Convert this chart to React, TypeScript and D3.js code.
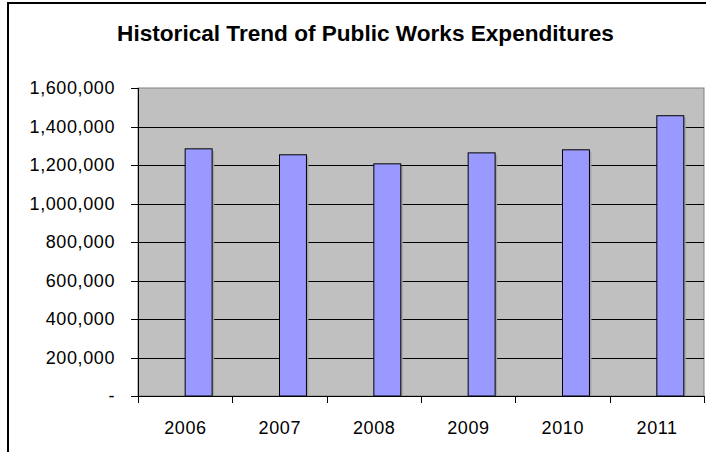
import React from "react";
import * as d3 from "d3";

const years = ["2006", "2007", "2008", "2009", "2010", "2011"];
const expenditures = [1284000, 1253000, 1206000, 1263000, 1279000, 1456000];
const yTicks = [0, 200000, 400000, 600000, 800000, 1000000, 1200000, 1400000, 1600000];
const title = "Historical Trend of Public Works Expenditures";

const W = 706;
const H = 452;
const plot = { left: 138, right: 704, top: 88, bottom: 396 };
const font = "'Liberation Sans', Arial, Helvetica, sans-serif";

export default function App() {
  const x = d3.scaleBand<string>().domain(years).range([plot.left, plot.right]).padding(0);
  const y = d3.scaleLinear().domain([0, 1600000]).range([plot.bottom, plot.top]);
  const bw = x.bandwidth() / 3.5;
  const fmt = (v: number) => (v === 0 ? "-" : d3.format(",")(v));
  const boundaries = years.map((d) => x(d) as number).concat([plot.right]);

  return (
    <svg width={W} height={H} style={{ position: "absolute", left: 0, top: 0, background: "#fff" }}>
      <rect x={0} y={0} width={W} height={H} fill="#fff" />
      {/* outer frame */}
      <rect x={8} y={3} width={W + 20} height={H + 20} fill="none" stroke="#000" strokeWidth={2} />
      {/* title */}
      <text x={365.5} y={41} textAnchor="middle" fontFamily={font} fontWeight="bold" fontSize={22.6} fill="#000">
        {title}
      </text>
      {/* plot area */}
      <rect x={plot.left} y={plot.top} width={plot.right - plot.left} height={plot.bottom - plot.top} fill="#C0C0C0" stroke="#808080" strokeWidth={1} />
      {/* gridlines + y ticks */}
      {yTicks.map((t) => (
        <g key={t}>
          {t > 0 && t < 1600000 && (
            <line x1={plot.left} x2={plot.right} y1={Math.round(y(t)) + 0.5} y2={Math.round(y(t)) + 0.5} stroke="#000" strokeWidth={1} />
          )}
          <line x1={plot.left - 7} x2={plot.left} y1={Math.round(y(t)) + 0.5} y2={Math.round(y(t)) + 0.5} stroke="#000" strokeWidth={1} />
          <text x={115} y={y(t)} dy="0.36em" textAnchor="end" fontFamily={font} fontSize={18} letterSpacing={0.6} fill="#000">
            {fmt(t)}
          </text>
        </g>
      ))}
      {/* bars */}
      {years.map((d, i) => {
        const cx = (x(d) as number) + x.bandwidth() / 2;
        const top = y(expenditures[i]);
        return (
          <g key={d}>
            <rect x={cx + 2} y={top + 2} width={bw} height={plot.bottom - top - 2} fill="#a4a4a4" />
            <rect x={cx} y={top} width={bw} height={plot.bottom - top} fill="#9999FF" stroke="#000" strokeWidth={1} />
          </g>
        );
      })}
      {/* axes */}
      <line x1={plot.left + 0.5} x2={plot.left + 0.5} y1={plot.top} y2={plot.bottom} stroke="#000" strokeWidth={1} />
      <line x1={plot.left} x2={plot.right} y1={plot.bottom + 0.5} y2={plot.bottom + 0.5} stroke="#000" strokeWidth={1} />
      {boundaries.map((bx, i) => (
        <line key={i} x1={Math.round(bx) + 0.5} x2={Math.round(bx) + 0.5} y1={plot.bottom} y2={plot.bottom + 7} stroke="#000" strokeWidth={1} />
      ))}
      {years.map((d) => (
        <text key={d} x={(x(d) as number) + x.bandwidth() / 2 + 0.3} y={434} textAnchor="middle" fontFamily={font} fontSize={18} letterSpacing={0.6} fill="#000">
          {d}
        </text>
      ))}
    </svg>
  );
}
